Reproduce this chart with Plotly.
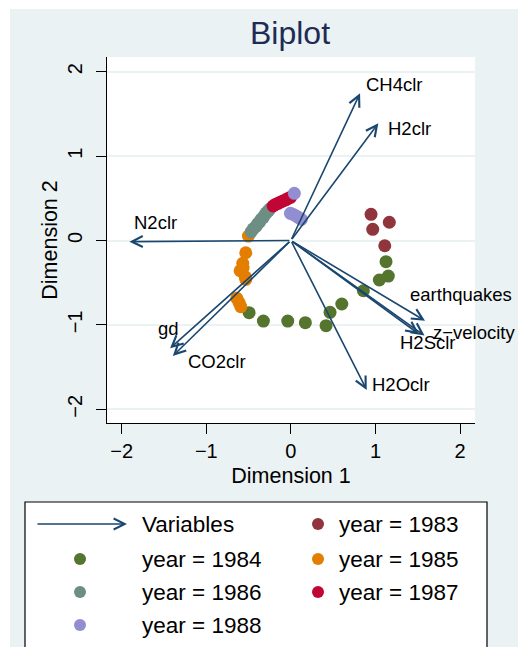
import plotly.graph_objects as go

# ---- variable loadings (arrow tips) ----
variables = ["CH4clr", "H2clr", "N2clr", "gd", "CO2clr", "H2Oclr",
             "earthquakes", "z\u2212velocity", "H2Sclr"]
load_x = [0.818, 1.034, -1.909, -1.428, -1.396, 0.897, 1.586, 1.580, 1.515]
load_y = [1.744, 1.389, -0.014, -1.277, -1.368, -1.771, -0.950, -1.126, -1.108]

# ---- observation scores by year ----
years = [1983, 1984, 1985, 1986, 1987, 1988]
score_x = {
    1983: [0.948, 1.164, 0.968, 1.110],
    1984: [1.125, 1.152, 1.046, 0.857, 0.602, 0.463, 0.416, 0.171, -0.037, -0.325, -0.494],
    1985: [-0.502, -0.533, -0.569, -0.565, -0.600, -0.540, -0.533, -0.639, -0.612, -0.592],
    1986: [-0.470, -0.445, -0.412, -0.392, -0.368, -0.352, -0.328, -0.309, -0.291, -0.268, -0.250],
    1987: [-0.210, -0.182, -0.151, -0.119, -0.092, -0.061, -0.032, -0.004],
    1988: [0.041, -0.005, 0.028, 0.061, 0.092, 0.124],
}
score_y = {
    1983: [0.310, 0.216, 0.133, -0.062],
    1984: [-0.251, -0.421, -0.468, -0.595, -0.752, -0.851, -1.009, -0.974, -0.954, -0.954, -0.855],
    1985: [0.053, -0.145, -0.270, -0.326, -0.358, -0.430, -0.460, -0.685, -0.735, -0.784],
    1986: [0.102, 0.138, 0.168, 0.199, 0.221, 0.252, 0.271, 0.302, 0.328, 0.349, 0.372],
    1987: [0.409, 0.428, 0.441, 0.457, 0.468, 0.482, 0.498, 0.511],
    1988: [0.559, 0.322, 0.309, 0.291, 0.272, 0.251],
}

# Stata s2color palette
NAVY = "rgb(26,71,111)"
year_colors = {
    1983: "rgb(144,53,59)",
    1984: "rgb(85,117,47)",
    1985: "rgb(227,126,0)",
    1986: "rgb(110,142,132)",
    1987: "rgb(193,5,52)",
    1988: "rgb(147,141,210)",
}
BG = "rgb(234,242,243)"
FONT = "Liberation Sans, Arial, Helvetica, sans-serif"

# label placement around each arrow tip: (px right, px down) of the label's left-middle point
label_offsets = [(4, -9), (8, 5), (3, -19), (-14, -20), (13, 6), (3, -6),
                 (-17, -26), (6, -3), (-21, 8)]

# plot-area geometry in pixels
W, H = 518, 647
PL, PR, PT, PB = 107, 475, 57, 423


def paper_x(px):
    return (px - PL) / (PR - PL)


def paper_y(py):
    return (PB - py) / (PB - PT)


fig = go.Figure()

for yr in years:
    fig.add_trace(go.Scatter(
        x=score_x[yr], y=score_y[yr], mode="markers",
        marker=dict(size=13, color=year_colors[yr], line=dict(width=0)),
        name=f"year = {yr}", showlegend=False, hoverinfo="x+y+name",
    ))

ARROW = dict(showarrow=True, arrowhead=5, arrowsize=1.35, arrowwidth=1.6,
             arrowcolor=NAVY, standoff=0, startstandoff=0, text="")

annotations = []
for name, vx, vy, (dx, dy) in zip(variables, load_x, load_y, label_offsets):
    annotations.append(dict(
        x=vx, y=vy, ax=0, ay=0, xref="x", yref="y", axref="x", ayref="y", **ARROW,
    ))
    annotations.append(dict(
        x=vx, y=vy, xref="x", yref="y", text=name, showarrow=False,
        xanchor="left", yanchor="middle", xshift=dx, yshift=-dy,
        font=dict(family=FONT, size=18.5, color="black"),
    ))

# ---- legend box (two columns, row-wise order) ----
legend_rows = [524, 559, 592, 625]
col_sym = [80, 318]
col_txt = [140, 337]
entries = [("Variables", None)] + [(f"year = {yr}", year_colors[yr]) for yr in years]

shapes = [
    # white strips outside the graph region
    dict(type="rect", xref="paper", yref="paper", layer="below",
         x0=paper_x(-20), x1=paper_x(10), y0=paper_y(700), y1=paper_y(-20),
         fillcolor="white", line=dict(width=0)),
    dict(type="rect", xref="paper", yref="paper", layer="below",
         x0=paper_x(-20), x1=paper_x(540), y0=paper_y(9), y1=paper_y(-20),
         fillcolor="white", line=dict(width=0)),
    # legend frame
    dict(type="rect", xref="paper", yref="paper", layer="above",
         x0=paper_x(25), x1=paper_x(487), y0=paper_y(720), y1=paper_y(502),
         fillcolor="white", line=dict(color="black", width=1.2)),
]

for i, (label, color) in enumerate(entries):
    row, col = divmod(i, 2)
    ypx = legend_rows[row]
    if color is None:
        annotations.append(dict(
            x=paper_x(127), y=paper_y(ypx), xref="paper", yref="paper",
            ax=-91, ay=0, **ARROW,
        ))
    else:
        shapes.append(dict(
            type="circle", xref="paper", yref="paper", layer="above",
            xsizemode="pixel", ysizemode="pixel",
            xanchor=paper_x(col_sym[col]), yanchor=paper_y(ypx),
            x0=-6, x1=6, y0=-6, y1=6, fillcolor=color, line=dict(width=0),
        ))
    annotations.append(dict(
        x=paper_x(col_txt[col]), y=paper_y(ypx), xref="paper", yref="paper",
        text=label, showarrow=False, xanchor="left", yanchor="middle",
        font=dict(family=FONT, size=22.5, color="black"),
    ))

axis_common = dict(
    showline=True, linecolor="black", linewidth=1.3, mirror=False,
    ticks="outside", ticklen=10, tickwidth=1.3, tickcolor="black",
    tickfont=dict(family=FONT, size=20, color="black"),
    zeroline=False, tickmode="array", tickvals=[-2, -1, 0, 1, 2],
)

fig.update_layout(
    width=W, height=H,
    margin=dict(l=PL, r=W - PR, t=PT, b=H - PB, autoexpand=False),
    paper_bgcolor=BG, plot_bgcolor="white",
    title=dict(text="Biplot", x=290 / W, xanchor="center", y=1 - 33 / H, yanchor="middle",
               font=dict(family=FONT, size=32, color="rgb(30,44,85)")),
    xaxis=dict(range=[-2.174, 2.177], showgrid=False,
               title=dict(text="Dimension 1", standoff=6,
                          font=dict(family=FONT, size=21.5, color="black")),
               **axis_common),
    yaxis=dict(range=[-2.162, 2.174], showgrid=True, gridcolor=BG, gridwidth=2,
               tickangle=-90, ticklabelstandoff=6,
               title=dict(text="Dimension 2", standoff=0,
                          font=dict(family=FONT, size=21.5, color="black")),
               **axis_common),
    annotations=annotations, shapes=shapes, showlegend=False,
)

fig.write_html("out.html")
